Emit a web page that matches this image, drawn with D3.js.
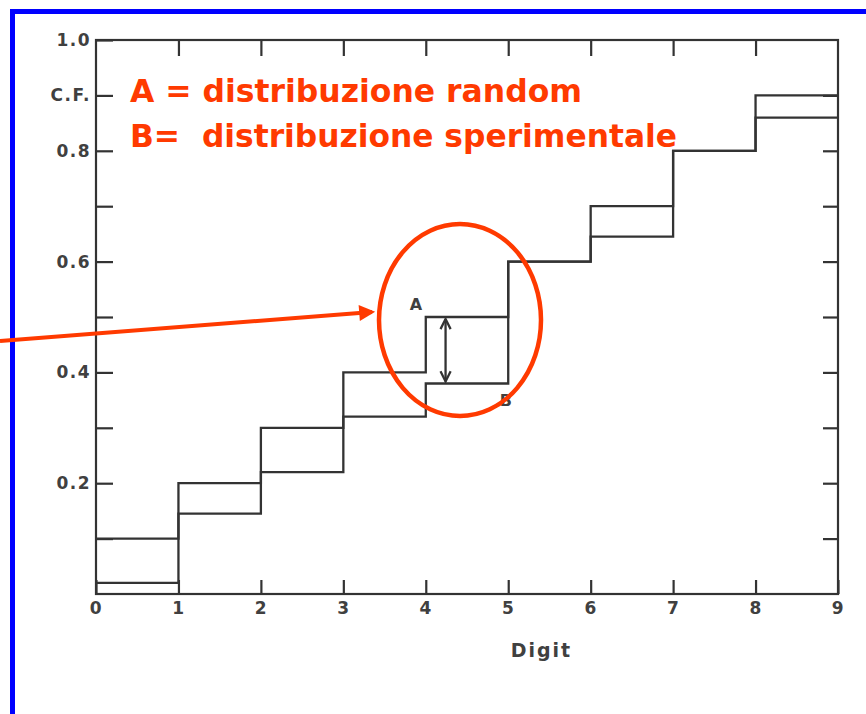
<!DOCTYPE html>
<html>
<head>
<meta charset="utf-8">
<script src="https://cdn.jsdelivr.net/npm/d3@7/dist/d3.min.js"></script>
<style>
  html, body { margin: 0; padding: 0; background: #ffffff; }
  svg { display: block; }
</style>
</head>
<body>
<svg id="chart" width="866" height="714"></svg>
<script>
// ---- data ----
const digits = [0, 1, 2, 3, 4, 5, 6, 7, 8, 9];
const randomCF = [0.10, 0.20, 0.30, 0.40, 0.50, 0.60, 0.70, 0.80, 0.90];       // A
const experimentalCF = [0.02, 0.145, 0.22, 0.32, 0.38, 0.60, 0.645, 0.80, 0.86]; // B
const yTickValues = [0.1, 0.2, 0.3, 0.4, 0.5, 0.6, 0.7, 0.8, 0.9, 1.0];
const yTickLabels = ["", "0.2", "", "0.4", "", "0.6", "", "0.8", "C.F.", "1.0"];
const xTickLabels = ["0", "1", "2", "3", "4", "5", "6", "7", "8", "9"];
const legendLines = ["A = distribuzione random", "B=  distribuzione sperimentale"];
const xTitle = "Digit";

// ---- layout ----
const svg = d3.select("#chart");
const x = d3.scaleLinear().domain([0, 9]).range([96, 838]);
const y = d3.scaleLinear().domain([0, 1]).range([594, 40]);
const ink = "#333333";
const txt = "#404040";
const red = "#ff3a00";
const labelFont = "'DejaVu Sans', 'Liberation Sans', sans-serif";

// blue slide frame
svg.append("path")
  .attr("d", "M12.5,714 L12.5,11.5 L866,11.5")
  .attr("fill", "none").attr("stroke", "#0000ff").attr("stroke-width", 5);

// plot box
svg.append("rect")
  .attr("x", x(0)).attr("y", y(1))
  .attr("width", x(9) - x(0)).attr("height", y(0) - y(1))
  .attr("fill", "none").attr("stroke", ink).attr("stroke-width", 2.2);

function styleAxis(g) {
  g.select(".domain").remove();
  g.selectAll(".tick line").attr("stroke", ink).attr("stroke-width", 2.2);
  g.selectAll(".tick text")
    .attr("fill", txt)
    .style("font-family", labelFont)
    .style("font-weight", "bold")
    .style("font-size", "17px")
    .style("letter-spacing", "1.5px");
}

// left axis
svg.append("g").attr("transform", `translate(${x(0)},0)`)
  .call(d3.axisLeft(y).tickValues(yTickValues)
    .tickSizeInner(-17).tickSizeOuter(0).tickPadding(5)
    .tickFormat((d, i) => yTickLabels[i]))
  .call(styleAxis);

// right axis (ticks only)
svg.append("g").attr("transform", `translate(${x(9)},0)`)
  .call(d3.axisRight(y).tickValues(yTickValues.slice(0, 9))
    .tickSizeInner(-15).tickSizeOuter(0).tickFormat(""))
  .call(styleAxis);

// bottom axis
svg.append("g").attr("transform", `translate(0,${y(0)})`)
  .call(d3.axisBottom(x).tickValues(digits)
    .tickSizeInner(-14).tickSizeOuter(0).tickPadding(8)
    .tickFormat((d, i) => xTickLabels[i]))
  .call(styleAxis);

// top axis (ticks only)
svg.append("g").attr("transform", `translate(0,${y(1)})`)
  .call(d3.axisTop(x).tickValues(digits.slice(1, 9))
    .tickSizeInner(-16).tickSizeOuter(0).tickFormat(""))
  .call(styleAxis);

// x title
svg.append("text")
  .attr("x", (x(5) + x(6)) / 2 - 8).attr("y", 657)
  .attr("text-anchor", "middle")
  .attr("fill", txt)
  .style("font-family", labelFont)
  .style("font-weight", "bold").style("font-size", "19px")
  .style("letter-spacing", "2px")
  .text(xTitle);

// step lines
const step = d3.line().x(d => x(d[0])).y(d => y(d[1])).curve(d3.curveStepAfter);
function stepPoints(vals) {
  const pts = vals.map((v, i) => [digits[i], v]);
  pts.push([digits[vals.length], vals[vals.length - 1]]);
  return pts;
}
[randomCF, experimentalCF].forEach(vals => {
  svg.append("path")
    .attr("d", step(stepPoints(vals)))
    .attr("fill", "none").attr("stroke", ink).attr("stroke-width", 2.3);
});

// A / B labels and double arrow
const labStyle = s => s.attr("fill", txt)
  .style("font-family", labelFont)
  .style("font-weight", "bold").style("font-size", "16px");
svg.append("text").attr("x", x(3.88)).attr("y", y(0.512)).attr("text-anchor", "middle").text("A").call(labStyle);
svg.append("text").attr("x", x(4.97)).attr("y", y(0.34)).attr("text-anchor", "middle").text("B").call(labStyle);

const defs = svg.append("defs");
defs.append("marker").attr("id", "chev")
  .attr("viewBox", "0 0 10 10").attr("refX", 9).attr("refY", 5)
  .attr("markerWidth", 5.5).attr("markerHeight", 5.5)
  .attr("orient", "auto-start-reverse").attr("markerUnits", "strokeWidth")
  .append("path").attr("d", "M1,1 L9,5 L1,9").attr("fill", "none")
  .attr("stroke", ink).attr("stroke-width", 1.8);
const ax = x(4.24);
svg.append("line")
  .attr("x1", ax).attr("x2", ax)
  .attr("y1", y(randomCF[4]) + 2).attr("y2", y(experimentalCF[4]) - 2)
  .attr("stroke", ink).attr("stroke-width", 2.3)
  .attr("marker-start", "url(#chev)").attr("marker-end", "url(#chev)");

// red ellipse
svg.append("ellipse")
  .attr("cx", 460).attr("cy", 320).attr("rx", 81).attr("ry", 96)
  .attr("fill", "none").attr("stroke", red).attr("stroke-width", 4.5);

// red pointer arrow
defs.append("marker").attr("id", "redhead")
  .attr("viewBox", "0 0 10 10").attr("refX", 8).attr("refY", 5)
  .attr("markerWidth", 4.5).attr("markerHeight", 4)
  .attr("orient", "auto").attr("markerUnits", "strokeWidth")
  .append("path").attr("d", "M0,0 L10,5 L0,10 Z").attr("fill", red);
svg.append("line")
  .attr("x1", 0).attr("y1", 341).attr("x2", 372).attr("y2", 312)
  .attr("stroke", red).attr("stroke-width", 4)
  .attr("marker-end", "url(#redhead)");

// red legend text
const legendWidths = [452, 547];
legendLines.forEach((t, i) => {
  svg.append("text")
    .attr("x", 130).attr("y", 102 + i * 45)
    .attr("fill", red)
    .attr("textLength", legendWidths[i]).attr("lengthAdjust", "spacingAndGlyphs")
    .style("white-space", "pre")
    .style("font-family", "'DejaVu Sans', sans-serif")
    .style("font-weight", "bold").style("font-size", "32px")
    .text(t);
});
</script>
</body>
</html>
